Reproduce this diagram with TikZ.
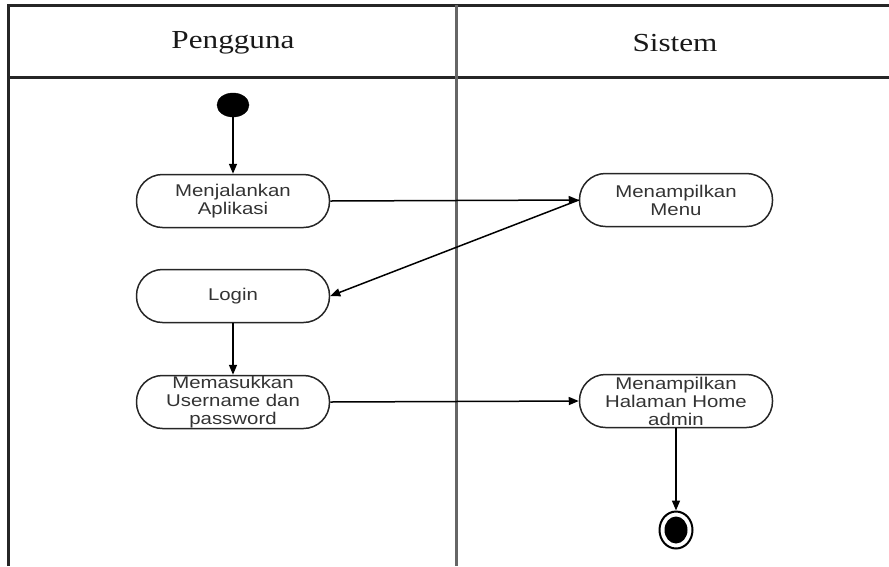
\documentclass[tikz,border=0pt]{standalone}
\usepackage{fontspec}
\setmainfont{Liberation Serif}[FakeStretch=1.2]
\newfontfamily\actfont{Liberation Sans}[FakeStretch=1.2]
\usetikzlibrary{arrows.meta,shapes.geometric}
\begin{document}
\begin{tikzpicture}[x=1pt,y=-1pt,
  lane/.style={line width=3pt,draw=black!85},
  divider/.style={line width=3pt,draw=black!60},
  header/.style={font=\fontsize{26}{30}\selectfont,text=black!90},
  activity/.style={draw=black!85,line width=1.5pt,rectangle,rounded corners=26pt,
    minimum width=193pt,minimum height=53pt,inner sep=0pt,align=center,
    font=\actfont\fontsize{17}{18}\selectfont,text=black!80},
  flow/.style={draw=black,line width=1.5pt,-{Triangle[length=10pt,width=8pt]}}
]
\useasboundingbox (0,0) rectangle (889,566);
% swimlane frame
\draw[lane] (8,566) -- (8,5) -- (889,5);
\draw[lane] (8,77) -- (889,77);
\draw[divider] (456,5) -- (456,566);
\node[header] (h1) at (233,43) {Pengguna};
\node[header] (h2) at (675,43) {Sistem};
% start and end states
\node[draw=black,fill=black,ellipse,minimum width=32pt,minimum height=24pt,inner sep=0pt] (start) at (233,105) {};
\node[draw=black,line width=2pt,ellipse,minimum width=33pt,minimum height=37pt,inner sep=0pt] (end) at (676,530) {};
\node[fill=black,ellipse,minimum width=23pt,minimum height=27pt,inner sep=0pt] (endin) at (676,530) {};
% activities
\node[activity] (a1) at (233,201) {Menjalankan\\Aplikasi};
\node[activity] (a2) at (676,200) {Menampilkan\\Menu};
\node[activity] (a3) at (233,296) {Login};
\node[activity] (a4) at (233,402) {Memasukkan\\Username dan\\password};
\node[activity] (a5) at (676,401) {Menampilkan\\Halaman Home\\admin};
% transitions
\draw[flow] (start) -- (a1);
\draw[flow] (a1.east) -- (a2.west);
\draw[flow] (a2.west) -- (a3.east);
\draw[flow] (a3) -- (a4);
\draw[flow] (a4.east) -- (a5.west);
\draw[flow] (a5) -- (end);
\end{tikzpicture}
\end{document}
